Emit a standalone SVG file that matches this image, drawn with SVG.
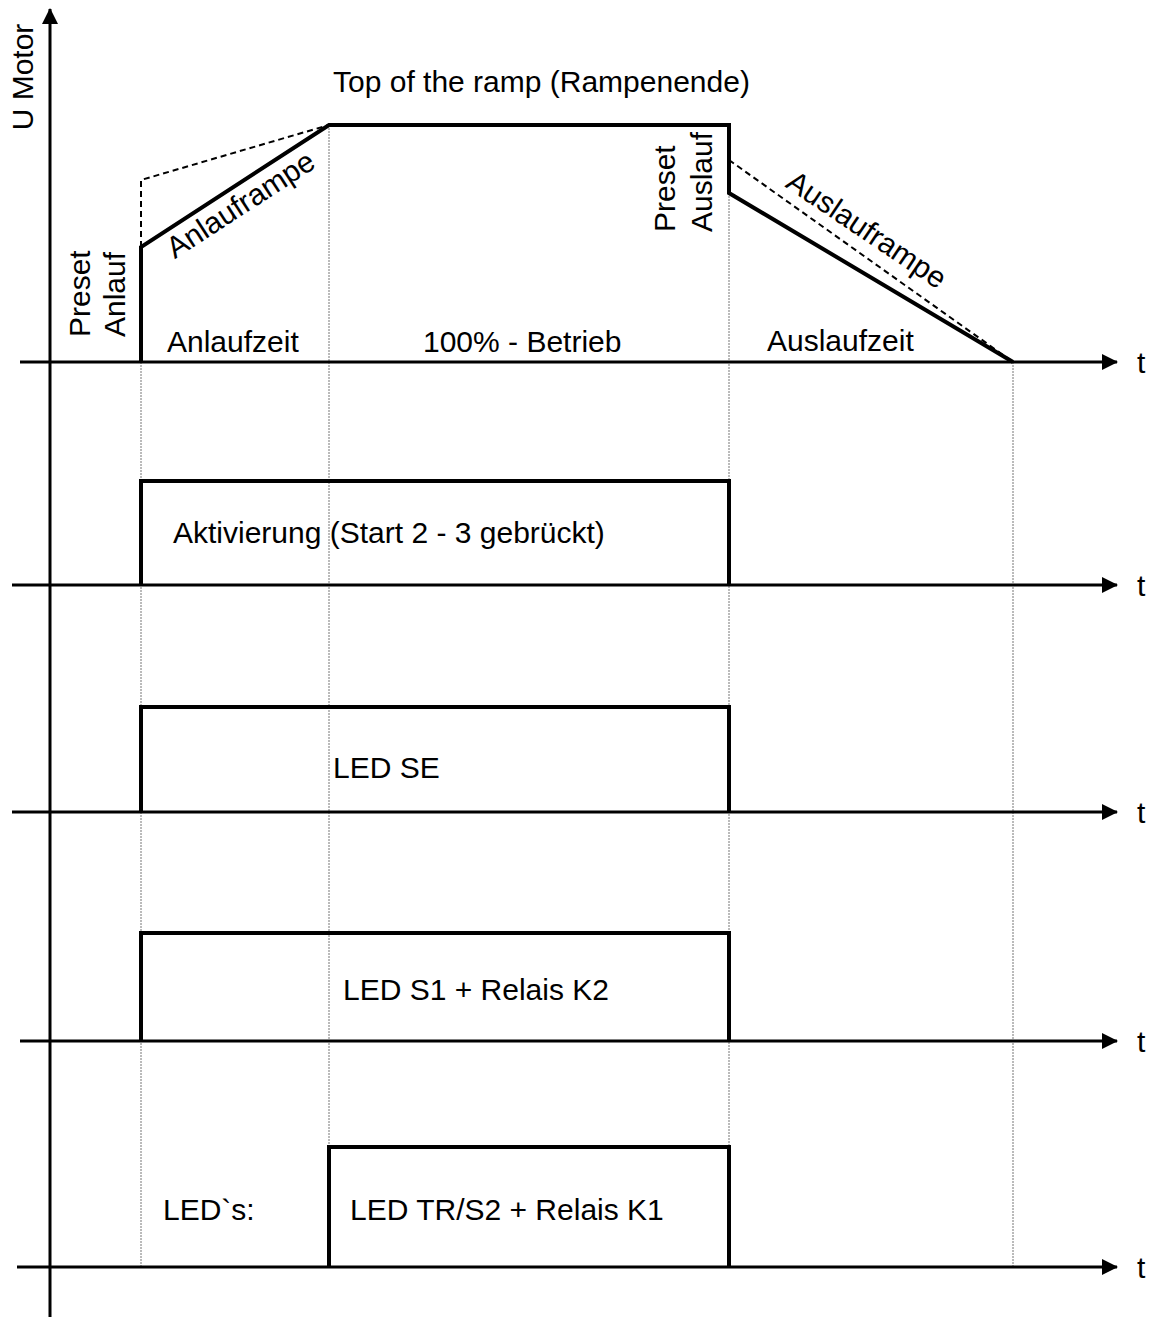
<svg xmlns="http://www.w3.org/2000/svg" width="1150" height="1317" viewBox="0 0 1150 1317">
<style>
text{font-family:"Liberation Sans",Arial,sans-serif;font-size:30px;fill:#000}
.axis{stroke:#000;stroke-width:3;fill:none}
.sig{stroke:#000;stroke-width:4;fill:none;stroke-linejoin:miter}
.dash{stroke:#000;stroke-width:2;fill:none;stroke-dasharray:6 4}
.guide{stroke:#777;stroke-width:1;fill:none;stroke-dasharray:2 1}
</style>
<defs>
<marker id="arr" viewBox="0 0 16 16" refX="15" refY="8" markerWidth="16" markerHeight="16" markerUnits="userSpaceOnUse" orient="auto">
<path d="M0,0 L16,8 L0,16 Z" fill="#000"/>
</marker>
</defs>
<rect width="1150" height="1317" fill="#fff"/>
<g id="guides">
<line class="guide" x1="141" y1="362" x2="141" y2="1267"/>
<line class="guide" x1="329" y1="125" x2="329" y2="1267"/>
<line class="guide" x1="729" y1="193" x2="729" y2="1267"/>
<line class="guide" x1="1013" y1="362" x2="1013" y2="1267"/>
</g>
<g id="axes">
<line class="axis" x1="50" y1="1317" x2="50" y2="9" marker-end="url(#arr)"/>
<line class="axis" x1="20" y1="362" x2="1117" y2="362" marker-end="url(#arr)"/>
<line class="axis" x1="12" y1="585" x2="1117" y2="585" marker-end="url(#arr)"/>
<line class="axis" x1="12" y1="812" x2="1117" y2="812" marker-end="url(#arr)"/>
<line class="axis" x1="20" y1="1041" x2="1117" y2="1041" marker-end="url(#arr)"/>
<line class="axis" x1="17" y1="1267" x2="1117" y2="1267" marker-end="url(#arr)"/>
<text x="1137" y="373">t</text>
<text x="1137" y="596">t</text>
<text x="1137" y="823">t</text>
<text x="1137" y="1052">t</text>
<text x="1137" y="1278">t</text>
<text transform="translate(33,77) rotate(-90)" text-anchor="middle">U Motor</text>
</g>
<g id="motor">
<polyline class="dash" points="141,247 141,180 329,125"/>
<line class="dash" x1="729" y1="160" x2="1013" y2="362"/>
<polyline class="sig" points="141,362 141,247 329,125 729,125 729,193 1013,362"/>
<text x="333" y="92">Top of the ramp (Rampenende)</text>
<text transform="translate(246,213) rotate(-33)" text-anchor="middle">Anlauframpe</text>
<text transform="translate(861,238) rotate(34)" text-anchor="middle">Auslauframpe</text>
<text transform="translate(90,337) rotate(-90)">Preset</text>
<text transform="translate(125,337) rotate(-90)">Anlauf</text>
<text transform="translate(675,232) rotate(-90)">Preset</text>
<text transform="translate(712,232) rotate(-90)">Auslauf</text>
<text x="167" y="352">Anlaufzeit</text>
<text x="423" y="352">100% - Betrieb</text>
<text x="767" y="351">Auslaufzeit</text>
</g>
<g id="aktivierung">
<polyline class="sig" points="141,585 141,481 729,481 729,585"/>
<text x="173" y="543">Aktivierung (Start 2 - 3 gebrückt)</text>
</g>
<g id="led-se">
<polyline class="sig" points="141,812 141,707 729,707 729,812"/>
<text x="333" y="778">LED SE</text>
</g>
<g id="led-s1">
<polyline class="sig" points="141,1041 141,933 729,933 729,1041"/>
<text x="343" y="1000">LED S1 + Relais K2</text>
</g>
<g id="led-tr">
<polyline class="sig" points="329,1267 329,1147 729,1147 729,1267"/>
<text x="163" y="1220">LED`s:</text>
<text x="350" y="1220">LED TR/S2 + Relais K1</text>
</g>
</svg>
